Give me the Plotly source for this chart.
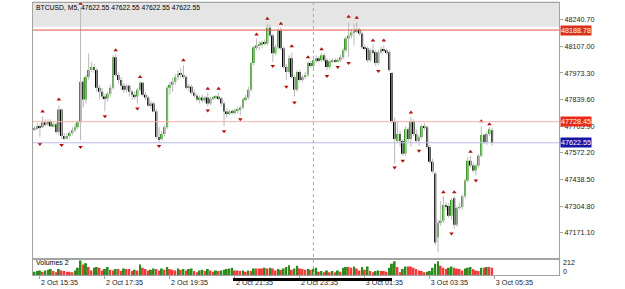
import pandas as pd
import plotly.graph_objects as go

# ---------------- data ----------------
chart_title = "BTCUSD, M5, 47622.55 47622.55 47622.55 47622.55"
volume_title = "Volumes 2"
start_time = "2021-10-02 15:25"
n_bars = 170
times = list(pd.date_range(start_time, periods=n_bars, freq="5min"))

opens = [
    47691.0, 47696.0, 47705.9, 47700.9, 47725.7, 47715.8, 47730.7, 47705.9, 47715.8, 47676.2,
    47790.1, 47656.4, 47646.5, 47656.4, 47671.2, 47686.1, 47700.9, 47725.7, 47928.7, 47839.6,
    47953.5, 47988.2, 48003.0, 47988.2, 47899.0, 47879.2, 47854.5, 47844.6, 47869.3, 47899.0,
    48052.5, 47963.4, 47938.6, 47908.9, 47889.1, 47908.9, 47879.2, 47864.4, 47854.5, 47889.1,
    47923.8, 47864.4, 47849.5, 47809.9, 47819.8, 47780.2, 47651.4, 47641.5, 47666.3, 47700.9,
    47899.0, 47913.9, 47928.7, 47953.5, 47968.4, 47963.4, 47953.5, 47899.0, 47904.0, 47874.3,
    47859.4, 47839.6, 47849.5, 47834.6, 47849.5, 47819.8, 47844.6, 47849.5, 47854.5, 47844.6,
    47819.8, 47780.2, 47770.3, 47780.2, 47775.2, 47785.1, 47790.1, 47800.0, 47839.6, 47849.5,
    47889.1, 48022.8, 48102.1, 48112.0, 48116.9, 48126.8, 48121.9, 48201.1, 48161.5, 48072.3,
    48102.1, 48186.2, 48097.1, 48003.0, 47978.3, 48047.6, 47953.5, 47889.1, 47978.3, 47938.6,
    47953.5, 47963.4, 48022.8, 48008.0, 48037.7, 48047.6, 48037.7, 48062.4, 48037.7, 48003.0,
    48032.7, 48037.7, 48032.7, 48037.7, 48052.5, 48087.2, 48146.6, 48161.5, 48176.3, 48181.3,
    48191.2, 48171.4, 48102.1, 48097.1, 48037.7, 48087.2, 48077.3, 48022.8, 48077.3, 48092.2,
    48087.2, 48077.3, 47973.3, 47730.7, 47631.6, 47666.3, 47631.6, 47567.2, 47691.0, 47641.5,
    47730.7, 47666.3, 47631.6, 47651.4, 47705.9, 47700.9, 47601.9, 47527.6, 47468.2, 47146.3,
    47220.6, 47230.5, 47309.7, 47304.8, 47255.3, 47344.4, 47210.7, 47294.9, 47299.8, 47354.3,
    47433.5, 47532.6, 47507.8, 47483.1, 47507.8, 47557.3, 47661.3, 47626.7, 47666.3, 47686.1,
]
highs = [
    47705.9, 47720.8, 47715.8, 47755.4, 47740.6, 47740.6, 47740.6, 47725.7, 47725.7, 47809.9,
    47795.0, 47671.2, 47671.2, 47681.1, 47700.9, 47720.8, 47735.6, 48300.1, 47948.5, 47963.4,
    48072.3, 48027.8, 48017.9, 47998.1, 47913.9, 47899.0, 47869.3, 47879.2, 47913.9, 48062.4,
    48067.4, 47978.3, 47953.5, 47923.8, 47918.8, 47918.8, 47889.1, 47879.2, 47899.0, 47933.7,
    47928.7, 47874.3, 47859.4, 47834.6, 47829.7, 47790.1, 47700.9, 47681.1, 47710.8, 47908.9,
    47928.7, 47948.5, 47968.4, 47988.2, 47998.1, 48012.9, 47963.4, 47918.8, 47913.9, 47889.1,
    47869.3, 47859.4, 47864.4, 47859.4, 47874.3, 47854.5, 47859.4, 47864.4, 47874.3, 47854.5,
    47829.7, 47795.0, 47790.1, 47790.1, 47795.0, 47800.0, 47809.9, 47849.5, 47864.4, 47904.0,
    48027.8, 48112.0, 48146.6, 48131.8, 48136.7, 48141.7, 48220.9, 48216.0, 48171.4, 48116.9,
    48196.1, 48201.1, 48107.0, 48017.9, 48062.4, 48077.3, 47963.4, 47988.2, 47988.2, 47963.4,
    47978.3, 48032.7, 48032.7, 48047.6, 48062.4, 48057.5, 48072.3, 48072.3, 48047.6, 48042.6,
    48047.6, 48047.6, 48047.6, 48062.4, 48097.1, 48156.5, 48225.9, 48196.1, 48220.9, 48225.9,
    48201.1, 48181.3, 48116.9, 48107.0, 48097.1, 48116.9, 48087.2, 48087.2, 48107.0, 48112.0,
    48097.1, 48087.2, 47978.3, 47750.5, 47730.7, 47681.1, 47641.5, 47705.9, 47700.9, 47750.5,
    47740.6, 47691.0, 47661.3, 47715.8, 47720.8, 47710.8, 47611.8, 47542.5, 47478.1, 47235.5,
    47329.5, 47354.3, 47324.6, 47319.6, 47344.4, 47354.3, 47304.8, 47319.6, 47364.2, 47443.4,
    47552.4, 47557.3, 47522.7, 47517.7, 47567.2, 47705.9, 47671.2, 47676.2, 47700.9, 47696.0,
]
lows = [
    47681.1, 47686.1, 47651.4, 47696.0, 47705.9, 47705.9, 47700.9, 47700.9, 47666.3, 47661.3,
    47641.5, 47636.6, 47641.5, 47646.5, 47661.3, 47676.2, 47691.0, 47636.6, 47800.0, 47819.8,
    47938.6, 47978.3, 47973.3, 47879.2, 47839.6, 47839.6, 47780.2, 47829.7, 47854.5, 47889.1,
    47953.5, 47918.8, 47889.1, 47874.3, 47874.3, 47854.5, 47839.6, 47839.6, 47819.8, 47879.2,
    47854.5, 47834.6, 47800.0, 47795.0, 47775.2, 47641.5, 47626.7, 47631.6, 47656.4, 47691.0,
    47864.4, 47879.2, 47913.9, 47938.6, 47948.5, 47943.6, 47889.1, 47879.2, 47864.4, 47849.5,
    47829.7, 47819.8, 47824.7, 47819.8, 47804.9, 47809.9, 47834.6, 47839.6, 47834.6, 47804.9,
    47705.9, 47750.5, 47760.4, 47765.3, 47765.3, 47770.3, 47760.4, 47790.1, 47829.7, 47839.6,
    47879.2, 48012.9, 48087.2, 48087.2, 48097.1, 48112.0, 48112.0, 48151.6, 48027.8, 48062.4,
    48092.2, 48087.2, 47993.1, 47938.6, 47968.4, 47943.6, 47854.5, 47879.2, 47928.7, 47928.7,
    47943.6, 47953.5, 47998.1, 47998.1, 48022.8, 48027.8, 48027.8, 48027.8, 47988.2, 47993.1,
    48022.8, 48022.8, 48027.8, 48027.8, 48042.6, 48077.3, 48052.5, 48146.6, 48112.0, 48171.4,
    48161.5, 48092.2, 48087.2, 48027.8, 48027.8, 48067.4, 48008.0, 48012.9, 48067.4, 48077.3,
    48067.4, 47978.3, 47720.8, 47517.7, 47621.7, 47601.9, 47557.3, 47557.3, 47626.7, 47601.9,
    47656.4, 47621.7, 47606.9, 47641.5, 47686.1, 47592.0, 47517.7, 47468.2, 47106.7, 47072.0,
    47205.7, 47220.6, 47285.0, 47245.4, 47235.5, 47190.9, 47200.8, 47285.0, 47289.9, 47344.4,
    47423.6, 47497.9, 47473.2, 47458.3, 47497.9, 47547.4, 47616.8, 47611.8, 47656.4, 47606.9,
]
closes = [
    47696.0, 47705.9, 47700.9, 47725.7, 47715.8, 47730.7, 47705.9, 47715.8, 47676.2, 47790.1,
    47656.4, 47646.5, 47656.4, 47671.2, 47686.1, 47700.9, 47725.7, 47928.7, 47839.6, 47953.5,
    47988.2, 48003.0, 47988.2, 47899.0, 47879.2, 47854.5, 47844.6, 47869.3, 47899.0, 48052.5,
    47963.4, 47938.6, 47908.9, 47889.1, 47908.9, 47879.2, 47864.4, 47854.5, 47889.1, 47923.8,
    47864.4, 47849.5, 47809.9, 47819.8, 47780.2, 47651.4, 47641.5, 47666.3, 47700.9, 47899.0,
    47913.9, 47928.7, 47953.5, 47968.4, 47963.4, 47953.5, 47899.0, 47904.0, 47874.3, 47859.4,
    47839.6, 47849.5, 47834.6, 47849.5, 47819.8, 47844.6, 47849.5, 47854.5, 47844.6, 47819.8,
    47780.2, 47770.3, 47780.2, 47775.2, 47785.1, 47790.1, 47800.0, 47839.6, 47849.5, 47889.1,
    48022.8, 48102.1, 48112.0, 48116.9, 48126.8, 48121.9, 48201.1, 48161.5, 48072.3, 48102.1,
    48186.2, 48097.1, 48003.0, 47978.3, 48047.6, 47953.5, 47889.1, 47978.3, 47938.6, 47953.5,
    47963.4, 48022.8, 48008.0, 48037.7, 48047.6, 48037.7, 48062.4, 48037.7, 48003.0, 48032.7,
    48037.7, 48032.7, 48037.7, 48052.5, 48087.2, 48146.6, 48161.5, 48176.3, 48181.3, 48191.2,
    48171.4, 48102.1, 48097.1, 48037.7, 48087.2, 48077.3, 48022.8, 48077.3, 48092.2, 48087.2,
    48077.3, 47988.2, 47730.7, 47641.5, 47666.3, 47631.6, 47567.2, 47691.0, 47641.5, 47730.7,
    47666.3, 47631.6, 47651.4, 47705.9, 47700.9, 47601.9, 47527.6, 47478.1, 47121.6, 47220.6,
    47230.5, 47309.7, 47304.8, 47255.3, 47334.5, 47210.7, 47294.9, 47299.8, 47354.3, 47433.5,
    47532.6, 47507.8, 47483.1, 47507.8, 47557.3, 47661.3, 47626.7, 47666.3, 47691.0, 47622.55,
]
volumes = [
    47, 57, 66, 47, 66, 75, 85, 57, 38, 85,
    66, 57, 47, 47, 38, 66, 104, 207, 151, 170,
    113, 66, 104, 113, 104, 66, 85, 113, 75, 66,
    85, 85, 57, 94, 85, 85, 57, 75, 66, 151,
    104, 85, 66, 75, 94, 85, 66, 94, 75, 113,
    85, 75, 66, 94, 75, 85, 66, 85, 94, 57,
    38, 66, 75, 57, 85, 66, 47, 66, 57, 66,
    75, 85, 94, 104, 66, 66, 57, 66, 47, 66,
    57, 94, 94, 94, 94, 104, 94, 104, 94, 66,
    85, 75, 94, 113, 141, 75, 94, 132, 94, 85,
    75, 85, 75, 89, 104, 47, 57, 38, 66, 38,
    57, 38, 66, 47, 104, 113, 113, 104, 122, 94,
    66, 113, 75, 122, 57, 38, 57, 66, 57, 57,
    47, 104, 160, 198, 113, 38, 85, 122, 122, 122,
    104, 85, 66, 57, 38, 47, 57, 104, 160, 198,
    132, 104, 85, 104, 122, 104, 94, 85, 66, 94,
    104, 113, 85, 66, 57, 104, 104, 113, 113, 104,
]

# Fractal indicator arrows (bar index, arrow price)
fractal_up_idx = [3, 9, 17, 30, 39, 55, 64, 68, 82, 86, 91, 95, 101, 106, 116, 119,
                  125, 129, 139, 151, 155, 161, 165, 168]
fractal_up_val = [47780.2, 47839.6, 48321.4, 48087.2, 47953.5, 48037.7, 47894.1, 47894.1,
                  48166.4, 48245.7, 48220.9, 48107.0, 48052.5, 48092.2, 48255.6, 48250.6,
                  48136.7, 48136.7, 47775.2, 47374.1, 47374.1, 47577.1, 47730.7, 47715.8]
fractal_dn_idx = [2, 10, 17, 26, 38, 46, 64, 70, 76, 88, 93, 96, 108, 112, 116, 127,
                  133, 136, 142, 154, 163]
fractal_dn_val = [47616.8, 47611.8, 47601.9, 47755.4, 47795.0, 47606.9, 47785.1, 47681.1,
                  47740.6, 48008.0, 47904.0, 47824.7, 47958.4, 48003.0, 48022.8, 47983.2,
                  47497.9, 47532.6, 47582.1, 47166.1, 47433.5]

price_ticks = [48240.70, 48107.00, 47973.30, 47839.60, 47705.90,
               47572.20, 47438.50, 47304.80, 47171.10]
price_range = [47037.4, 48324.9]
band_low = 48206.0
level_high = 48188.78
level_mid = 47728.45
level_bid = 47622.55
volume_range = [0, 226]
volume_labels = ["212", "0"]
time_ticks = ["2021-10-02 15:35", "2021-10-02 17:35", "2021-10-02 19:35",
              "2021-10-02 21:35", "2021-10-02 23:35", "2021-10-03 01:35",
              "2021-10-03 03:35", "2021-10-03 05:35"]
day_separator = "2021-10-03 00:00"

assert len(opens) == len(highs) == len(lows) == len(closes) == len(volumes) == n_bars

# ---------------- styling ----------------
FONT = "Liberation Sans, Arial, sans-serif"
GREEN = "#3a9a25"
BEAR = "#000000"
WICK = "#b9b9b9"
BORDER = "#a3a3a3"
VOL_UP = "#2f8a1c"
VOL_DN = "#f03c3c"
ARROW = "#b40f0f"

bar_ms = 5 * 60 * 1000
body_w = 0.72 * bar_ms

fig = go.Figure()

# wicks
wx, wy = [], []
for t, h, l in zip(times, highs, lows):
    wx += [t, t, None]
    wy += [l, h, None]
fig.add_trace(go.Scatter(x=wx, y=wy, mode="lines",
                         line=dict(color=WICK, width=1), hoverinfo="skip"))

# bodies
base = [min(o, c) for o, c in zip(opens, closes)]
height = [max(abs(c - o), 4.0) for o, c in zip(opens, closes)]
bcol = [GREEN if c > o else BEAR for o, c in zip(opens, closes)]
fig.add_trace(go.Bar(x=times, y=height, base=base, width=body_w,
                     marker=dict(color=bcol, line=dict(width=0))))

# fractals
fig.add_trace(go.Scatter(x=[times[i] for i in fractal_up_idx], y=fractal_up_val,
                         mode="markers",
                         marker=dict(symbol="triangle-up", size=4, color=ARROW)))
fig.add_trace(go.Scatter(x=[times[i] for i in fractal_dn_idx], y=fractal_dn_val,
                         mode="markers",
                         marker=dict(symbol="triangle-down", size=4, color=ARROW)))

# volumes (MT4 Volumes: green when volume grows)
vcol = [VOL_UP] + [VOL_UP if volumes[i] > volumes[i - 1] else VOL_DN
                   for i in range(1, n_bars)]
fig.add_trace(go.Bar(x=times, y=volumes, width=body_w, xaxis="x2", yaxis="y2",
                     marker=dict(color=vcol, line=dict(width=0))))

t0 = times[0]
x_range = [t0 - pd.Timedelta(minutes=5 * 0.554), t0 + pd.Timedelta(minutes=5 * 193.69)]

PANE = 16 / 276

fig.update_layout(
    width=625, height=289,
    margin=dict(l=33, r=66, t=2, b=11),
    paper_bgcolor="white", plot_bgcolor="white",
    showlegend=False, hovermode=False, barmode="overlay",
    font=dict(family=FONT, size=7.2, color="#222"),
    xaxis=dict(domain=[0, 1], anchor="y", type="date", range=x_range,
               showticklabels=False, ticks="", showgrid=False, zeroline=False,
               showline=True, mirror=True, linecolor=BORDER, linewidth=1),
    xaxis2=dict(domain=[0, 1], anchor="y2", type="date", range=x_range, matches="x",
                showgrid=False, zeroline=False, showline=True, mirror=True,
                linecolor=BORDER, linewidth=1,
                tickmode="array", tickvals=time_ticks, tickformat="%-d %b %H:%M",
                ticks="outside", ticklen=3, tickcolor=BORDER,
                ticklabelposition="outside right",
                tickfont=dict(family=FONT, size=7.2, color="#222")),
    yaxis=dict(domain=[PANE, 1], anchor="x", range=price_range, side="right",
               showgrid=False, zeroline=False, showline=True, mirror=True,
               linecolor=BORDER, linewidth=1,
               tickmode="array", tickvals=price_ticks,
               ticktext=[f"{v:.2f}" for v in price_ticks],
               ticks="outside", ticklen=3, tickcolor=BORDER,
               tickfont=dict(family=FONT, size=7.2, color="#222")),
    yaxis2=dict(domain=[0, PANE], anchor="x2", range=volume_range, side="right",
                showgrid=False, zeroline=False, showline=True, mirror=True,
                linecolor=BORDER, linewidth=1, showticklabels=False, ticks=""),
)

shapes = [
    # gray band at the top of the price pane (reaching the top edge of the page)
    dict(type="rect", xref="paper", yref="y", x0=0, x1=1, y0=band_low, y1=price_range[1],
         fillcolor="#e5e5e5", line=dict(width=0), layer="below"),
    dict(type="rect", xref="paper", yref="paper", x0=0, x1=1, y0=1, y1=1 + 2 / 276,
         fillcolor="#e5e5e5", line=dict(width=0), layer="below"),
    dict(type="line", xref="paper", yref="y", x0=0, x1=1, y0=level_high, y1=level_high,
         line=dict(color="#e2553f", width=1)),
    dict(type="line", xref="paper", yref="y", x0=0, x1=1, y0=level_mid, y1=level_mid,
         line=dict(color="#f5b0a6", width=1)),
    dict(type="line", xref="paper", yref="y", x0=0, x1=1, y0=level_bid, y1=level_bid,
         line=dict(color="#b9b9e6", width=1)),
    dict(type="line", xref="x", yref="paper", x0=day_separator, x1=day_separator, y0=0, y1=1,
         line=dict(color="#a8a8a8", width=1, dash="dot")),
    # black marker stroke over part of the time axis
    dict(type="line", xref="paper", yref="paper",
         x0=(233 - 33) / 526, x1=(392 - 33) / 526,
         y0=(278 - 282.5) / 276, y1=(278 - 282.5) / 276,
         line=dict(color="#000000", width=3)),
]
fig.update_layout(shapes=shapes)

ann = [
    dict(text=chart_title, xref="paper", yref="paper", x=0, y=(278 - 6.5) / 276,
         xanchor="left", yanchor="middle", xshift=1, showarrow=False,
         font=dict(family=FONT, size=6.8, color="#000")),
    dict(text=volume_title, xref="paper", yref="paper", x=0, y=(278 - 265.5) / 276,
         xanchor="left", yanchor="middle", xshift=1, showarrow=False,
         font=dict(family=FONT, size=7.0, color="#000")),
    dict(text=volume_labels[0], xref="paper", yref="paper", x=1, y=(278 - 265.3) / 276,
         xanchor="left", yanchor="middle", xshift=2, showarrow=False,
         font=dict(family=FONT, size=7.2, color="#222")),
    dict(text=volume_labels[1], xref="paper", yref="paper", x=1, y=(278 - 274.3) / 276,
         xanchor="left", yanchor="middle", xshift=2, showarrow=False,
         font=dict(family=FONT, size=7.2, color="#222")),
]
for val, col in [(level_high, "#d8321f"), (level_mid, "#e8291c"), (level_bid, "#1515a6")]:
    ann.append(dict(text=f"{val:.2f}", xref="paper", yref="y", x=1, y=val,
                    xanchor="left", yanchor="middle", xshift=1, showarrow=False,
                    bgcolor=col, borderpad=0,
                    font=dict(family=FONT, size=7.2, color="white")))
fig.update_layout(annotations=ann)

fig.write_html("out.html")
